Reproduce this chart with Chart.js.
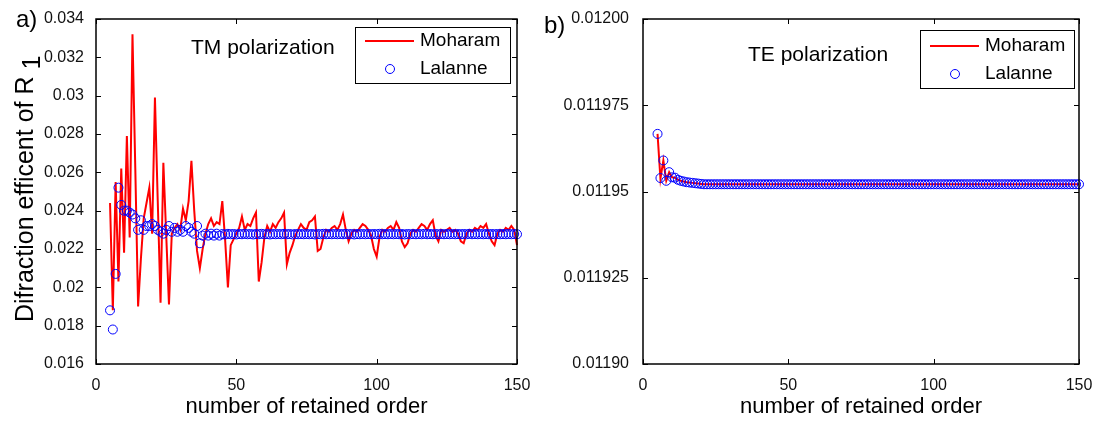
<!DOCTYPE html>
<html>
<head>
<meta charset="utf-8">
<script src="https://cdn.jsdelivr.net/npm/chart.js@4.4.0/dist/chart.umd.min.js"></script>
<style>
  html, body { margin: 0; padding: 0; background: #fff; }
  #wrap { position: relative; width: 1099px; height: 421px; }
  .panel { position: absolute; top: 0; height: 421px; }
  #panelA { left: 0; width: 540px; }
  #panelB { left: 540px; width: 559px; }
</style>
</head>
<body>
<div id="wrap">
  <div class="panel" id="panelA"><canvas id="chartA" width="540" height="421"></canvas></div>
  <div class="panel" id="panelB"><canvas id="chartB" width="559" height="421"></canvas></div>
</div>
<script>
// number of retained orders
const orders = [
  5, 6, 7, 8, 9, 10, 11, 12, 13, 14,
  15, 16, 17, 18, 19, 20, 21, 22, 23, 24,
  25, 26, 27, 28, 29, 30, 31, 32, 33, 34,
  35, 36, 37, 38, 39, 40, 41, 42, 43, 44,
  45, 46, 47, 48, 49, 50, 51, 52, 53, 54,
  55, 56, 57, 58, 59, 60, 61, 62, 63, 64,
  65, 66, 67, 68, 69, 70, 71, 72, 73, 74,
  75, 76, 77, 78, 79, 80, 81, 82, 83, 84,
  85, 86, 87, 88, 89, 90, 91, 92, 93, 94,
  95, 96, 97, 98, 99, 100, 101, 102, 103, 104,
  105, 106, 107, 108, 109, 110, 111, 112, 113, 114,
  115, 116, 117, 118, 119, 120, 121, 122, 123, 124,
  125, 126, 127, 128, 129, 130, 131, 132, 133, 134,
  135, 136, 137, 138, 139, 140, 141, 142, 143, 144,
  145, 146, 147, 148, 149, 150
];

// a) TM polarization
const tmMoharam = [
  0.0244, 0.0188, 0.0255, 0.0203, 0.0262, 0.0218, 0.0279, 0.0226, 0.0332, 0.0262,
  0.0190, 0.0215, 0.0236, 0.0244, 0.0252, 0.0228, 0.0299, 0.0245, 0.0192, 0.0265,
  0.0228, 0.0191, 0.0228, 0.0231, 0.0233, 0.0230, 0.0241, 0.0235, 0.0245, 0.0266,
  0.0240, 0.0219, 0.0210, 0.0220, 0.0228, 0.0233, 0.0236, 0.0232, 0.0234, 0.0233,
  0.0245, 0.0225, 0.0200, 0.0222, 0.0225, 0.0228, 0.0231, 0.0237, 0.0230, 0.0233,
  0.0232, 0.0236, 0.0239, 0.0203, 0.0213, 0.0226, 0.0232, 0.0229, 0.0233, 0.0231,
  0.0234, 0.0236, 0.0239, 0.0212, 0.0218, 0.0222, 0.0227, 0.0230, 0.0233, 0.0231,
  0.0230, 0.0234, 0.0235, 0.0237, 0.0219, 0.0220, 0.0226, 0.0230, 0.0229, 0.0231,
  0.0232, 0.0230, 0.0233, 0.0238, 0.0230, 0.0224, 0.0228, 0.0230, 0.0229, 0.0231,
  0.0233, 0.0232, 0.0230, 0.0227, 0.0220, 0.0216, 0.0226, 0.0230, 0.0229, 0.0231,
  0.0232, 0.0230, 0.0234, 0.0231, 0.0224, 0.0221, 0.0223, 0.0228, 0.0230, 0.0229,
  0.0231, 0.0233, 0.0232, 0.0230, 0.0233, 0.0235, 0.0227, 0.0224, 0.0230, 0.0229,
  0.0230, 0.0231, 0.0229, 0.0230, 0.0228, 0.0224, 0.0223, 0.0228, 0.0230, 0.0229,
  0.0231, 0.0230, 0.0232, 0.0231, 0.0233, 0.0228, 0.0224, 0.0222, 0.0228, 0.0230,
  0.0229, 0.0231, 0.0230, 0.0232, 0.0230, 0.0222
];
const tmLalanne = [
  0.0188, 0.0178, 0.0207, 0.0252, 0.0243, 0.0240, 0.0240, 0.0239, 0.0238, 0.0236,
  0.0230, 0.0235, 0.0230, 0.0232, 0.0232, 0.0233, 0.0232, 0.0230, 0.0229, 0.0228,
  0.0230, 0.0232, 0.0229, 0.0231, 0.0229, 0.0230, 0.0229, 0.0232, 0.0231, 0.0229,
  0.0228, 0.0232, 0.0223, 0.0227, 0.0228, 0.0227, 0.0228, 0.0227, 0.0228, 0.0227,
  0.02278, 0.02276, 0.02279, 0.02277, 0.02278, 0.02276, 0.02278, 0.02277, 0.02279, 0.02277,
  0.02278, 0.02276, 0.02278, 0.02277, 0.02279, 0.02277, 0.02278, 0.02276, 0.02278, 0.02277,
  0.02278, 0.02277, 0.02279, 0.02277, 0.02278, 0.02276, 0.02278, 0.02277, 0.02278, 0.02277,
  0.02278, 0.02277, 0.02278, 0.02276, 0.02278, 0.02277, 0.02279, 0.02277, 0.02278, 0.02277,
  0.02278, 0.02277, 0.02278, 0.02277, 0.02279, 0.02277, 0.02278, 0.02276, 0.02278, 0.02277,
  0.02278, 0.02277, 0.02278, 0.02277, 0.02278, 0.02277, 0.02279, 0.02277, 0.02278, 0.02277,
  0.02278, 0.02277, 0.02278, 0.02277, 0.02278, 0.02276, 0.02278, 0.02277, 0.02278, 0.02277,
  0.02278, 0.02277, 0.02279, 0.02277, 0.02278, 0.02277, 0.02278, 0.02277, 0.02278, 0.02277,
  0.02278, 0.02277, 0.02278, 0.02277, 0.02278, 0.02277, 0.02278, 0.02277, 0.02279, 0.02277,
  0.02278, 0.02277, 0.02278, 0.02277, 0.02278, 0.02277, 0.02278, 0.02277, 0.02278, 0.02277,
  0.02278, 0.02277, 0.02278, 0.02277, 0.02278, 0.02277
];

// b) TE polarization
const teMoharam = [
  0.0119667, 0.0119537, 0.0119590, 0.0119531, 0.0119556, 0.0119541, 0.0119540, 0.0119534, 0.0119531, 0.0119529,
  0.0119527, 0.0119526, 0.0119525, 0.0119524, 0.0119523, 0.0119522, 0.0119521, 0.0119521, 0.0119521, 0.0119521,
  0.0119521, 0.0119521, 0.0119521, 0.0119521, 0.0119521, 0.0119521, 0.0119521, 0.0119521, 0.0119521, 0.0119521,
  0.0119521, 0.0119521, 0.0119521, 0.0119521, 0.0119521, 0.0119521, 0.0119521, 0.0119521, 0.0119521, 0.0119521,
  0.0119521, 0.0119521, 0.0119521, 0.0119521, 0.0119521, 0.0119521, 0.0119521, 0.0119521, 0.0119521, 0.0119521,
  0.0119521, 0.0119521, 0.0119521, 0.0119521, 0.0119521, 0.0119521, 0.0119521, 0.0119521, 0.0119521, 0.0119521,
  0.0119521, 0.0119521, 0.0119521, 0.0119521, 0.0119521, 0.0119521, 0.0119521, 0.0119521, 0.0119521, 0.0119521,
  0.0119521, 0.0119521, 0.0119521, 0.0119521, 0.0119521, 0.0119521, 0.0119521, 0.0119521, 0.0119521, 0.0119521,
  0.0119521, 0.0119521, 0.0119521, 0.0119521, 0.0119521, 0.0119521, 0.0119521, 0.0119521, 0.0119521, 0.0119521,
  0.0119521, 0.0119521, 0.0119521, 0.0119521, 0.0119521, 0.0119521, 0.0119521, 0.0119521, 0.0119521, 0.0119521,
  0.0119521, 0.0119521, 0.0119521, 0.0119521, 0.0119521, 0.0119521, 0.0119521, 0.0119521, 0.0119521, 0.0119521,
  0.0119521, 0.0119521, 0.0119521, 0.0119521, 0.0119521, 0.0119521, 0.0119521, 0.0119521, 0.0119521, 0.0119521,
  0.0119521, 0.0119521, 0.0119521, 0.0119521, 0.0119521, 0.0119521, 0.0119521, 0.0119521, 0.0119521, 0.0119521,
  0.0119521, 0.0119521, 0.0119521, 0.0119521, 0.0119521, 0.0119521, 0.0119521, 0.0119521, 0.0119521, 0.0119521,
  0.0119521, 0.0119521, 0.0119521, 0.0119521, 0.0119521, 0.0119521
];
const teLalanne = [
  0.0119667, 0.0119539, 0.0119590, 0.0119531, 0.0119556, 0.0119541, 0.0119540, 0.0119534, 0.0119531, 0.0119529,
  0.0119527, 0.0119526, 0.0119525, 0.0119524, 0.0119523, 0.0119522, 0.0119521, 0.0119521, 0.0119521, 0.0119521,
  0.0119521, 0.0119521, 0.0119521, 0.0119521, 0.0119521, 0.0119521, 0.0119521, 0.0119521, 0.0119521, 0.0119521,
  0.0119521, 0.0119521, 0.0119521, 0.0119521, 0.0119521, 0.0119521, 0.0119521, 0.0119521, 0.0119521, 0.0119521,
  0.0119521, 0.0119521, 0.0119521, 0.0119521, 0.0119521, 0.0119521, 0.0119521, 0.0119521, 0.0119521, 0.0119521,
  0.0119521, 0.0119521, 0.0119521, 0.0119521, 0.0119521, 0.0119521, 0.0119521, 0.0119521, 0.0119521, 0.0119521,
  0.0119521, 0.0119521, 0.0119521, 0.0119521, 0.0119521, 0.0119521, 0.0119521, 0.0119521, 0.0119521, 0.0119521,
  0.0119521, 0.0119521, 0.0119521, 0.0119521, 0.0119521, 0.0119521, 0.0119521, 0.0119521, 0.0119521, 0.0119521,
  0.0119521, 0.0119521, 0.0119521, 0.0119521, 0.0119521, 0.0119521, 0.0119521, 0.0119521, 0.0119521, 0.0119521,
  0.0119521, 0.0119521, 0.0119521, 0.0119521, 0.0119521, 0.0119521, 0.0119521, 0.0119521, 0.0119521, 0.0119521,
  0.0119521, 0.0119521, 0.0119521, 0.0119521, 0.0119521, 0.0119521, 0.0119521, 0.0119521, 0.0119521, 0.0119521,
  0.0119521, 0.0119521, 0.0119521, 0.0119521, 0.0119521, 0.0119521, 0.0119521, 0.0119521, 0.0119521, 0.0119521,
  0.0119521, 0.0119521, 0.0119521, 0.0119521, 0.0119521, 0.0119521, 0.0119521, 0.0119521, 0.0119521, 0.0119521,
  0.0119521, 0.0119521, 0.0119521, 0.0119521, 0.0119521, 0.0119521, 0.0119521, 0.0119521, 0.0119521, 0.0119521,
  0.0119521, 0.0119521, 0.0119521, 0.0119521, 0.0119521, 0.0119521
];

// axis ticks
const xTicks = [0, 50, 100, 150];
const xTickLabels = ["0", "50", "100", "150"];
const tmYTicks = [0.016, 0.018, 0.020, 0.022, 0.024, 0.026, 0.028, 0.030, 0.032, 0.034];
const tmYTickLabels = ["0.016", "0.018", "0.02", "0.022", "0.024", "0.026", "0.028", "0.03", "0.032", "0.034"];
const teYTicks = [0.011900, 0.011925, 0.011950, 0.011975, 0.012000];
const teYTickLabels = ["0.01190", "0.011925", "0.01195", "0.011975", "0.01200"];

const FONT = "'Liberation Sans', Arial, Helvetica, sans-serif";

function toPoints(values) {
  return orders.map((n, i) => ({ x: n, y: values[i] }));
}

// box around the axes and inward tick marks, like MATLAB
const axesFrame = {
  id: "axesFrame",
  afterDatasetsDraw(chart) {
    const { ctx, chartArea: a } = chart;
    const x = chart.scales.x;
    const y = chart.scales.y;
    ctx.save();
    ctx.strokeStyle = "#000";
    ctx.lineWidth = 1.5;
    ctx.strokeRect(a.left, a.top, a.right - a.left, a.bottom - a.top);
    ctx.lineWidth = 1;
    ctx.beginPath();
    x.ticks.forEach((t) => {
      const px = Math.round(x.getPixelForValue(t.value)) + 0.5;
      ctx.moveTo(px, a.bottom); ctx.lineTo(px, a.bottom - 5);
      ctx.moveTo(px, a.top); ctx.lineTo(px, a.top + 5);
    });
    y.ticks.forEach((t) => {
      const py = Math.round(y.getPixelForValue(t.value)) + 0.5;
      ctx.moveTo(a.left, py); ctx.lineTo(a.left + 5, py);
      ctx.moveTo(a.right, py); ctx.lineTo(a.right - 5, py);
    });
    ctx.stroke();
    ctx.restore();
  },
  afterDraw(chart, args, opts) {
    const ctx = chart.ctx;
    ctx.save();
    ctx.fillStyle = "#000";
    ctx.textBaseline = "middle";

    // panel letter
    ctx.font = "24px " + FONT;
    ctx.textAlign = "left";
    ctx.fillText(opts.letter.text, opts.letter.x, opts.letter.y);

    // polarization note
    ctx.font = "21px " + FONT;
    ctx.fillText(opts.note.text, opts.note.x, opts.note.y);

    // legend
    const lg = opts.legend;
    ctx.fillStyle = "#fff";
    ctx.fillRect(lg.x, lg.y, lg.w, lg.h);
    ctx.strokeStyle = "#000";
    ctx.lineWidth = 1;
    ctx.strokeRect(lg.x + 0.5, lg.y + 0.5, lg.w, lg.h);
    ctx.strokeStyle = "#ff0000";
    ctx.lineWidth = 2;
    ctx.beginPath();
    ctx.moveTo(lg.x + 10, lg.row1);
    ctx.lineTo(lg.x + 59, lg.row1);
    ctx.stroke();
    ctx.strokeStyle = "#0000ff";
    ctx.lineWidth = 1;
    ctx.beginPath();
    ctx.arc(lg.x + 35, lg.row2, 4.5, 0, Math.PI * 2);
    ctx.stroke();
    ctx.fillStyle = "#000";
    ctx.font = "19px " + FONT;
    ctx.fillText("Moharam", lg.x + 65, lg.row1);
    ctx.fillText("Lalanne", lg.x + 65, lg.row2);

    // y title with subscript
    if (opts.yTitle) {
      ctx.translate(opts.yTitle.x, opts.yTitle.y);
      ctx.rotate(-Math.PI / 2);
      ctx.textBaseline = "alphabetic";
      ctx.font = "25px " + FONT;
      const main = "Difraction efficent of R";
      ctx.fillText(main, 0, 0);
      const w = ctx.measureText(main + " ").width;
      ctx.fillText("1", w, 7);
    }
    ctx.restore();
  }
};

function makeChart(id, moharam, lalanne, yTicks, yTickLabels, yMin, yMax, yWidth, rightPad, yPad, annot) {
  return new Chart(document.getElementById(id), {
    type: "line",
    data: {
      datasets: [
        {
          label: "Moharam",
          data: toPoints(moharam),
          borderColor: "#ff0000",
          borderWidth: 2,
          pointRadius: 0,
          tension: 0,
          fill: false,
          order: 1,
          clip: false
        },
        {
          label: "Lalanne",
          data: toPoints(lalanne),
          showLine: false,
          pointStyle: "circle",
          pointRadius: 4.5,
          pointBorderWidth: 1,
          pointBorderColor: "#0000ff",
          pointBackgroundColor: "rgba(0,0,0,0)",
          borderColor: "#0000ff",
          order: 0,
          clip: false
        }
      ]
    },
    options: {
      responsive: false,
      animation: false,
      devicePixelRatio: 1,
      layout: { padding: { left: 0, right: rightPad, top: 19, bottom: 0 } },
      plugins: {
        legend: { display: false },
        tooltip: { enabled: false },
        axesFrame: annot
      },
      scales: {
        x: {
          type: "linear",
          min: 0,
          max: 150,
          grid: { display: false },
          border: { display: false },
          afterBuildTicks: (scale) => { scale.ticks = xTicks.map((v) => ({ value: v })); },
          afterFit: (scale) => { scale.height = 57; },
          ticks: {
            color: "#111",
            padding: 4,
            maxRotation: 0,
            font: { family: FONT, size: 16 },
            callback: (v, i) => xTickLabels[i]
          },
          title: {
            display: true,
            text: "number of retained order",
            color: "#000",
            font: { family: FONT, size: 22 },
            padding: { top: 0, bottom: 1 }
          }
        },
        y: {
          type: "linear",
          min: yMin,
          max: yMax,
          grid: { display: false },
          border: { display: false },
          afterBuildTicks: (scale) => { scale.ticks = yTicks.map((v) => ({ value: v })); },
          afterFit: (scale) => { scale.width = yWidth; },
          ticks: {
            color: "#111",
            padding: yPad,
            font: { family: FONT, size: 16 },
            callback: (v, i) => yTickLabels[i]
          }
        }
      }
    },
    plugins: [axesFrame]
  });
}

makeChart("chartA", tmMoharam, tmLalanne, tmYTicks, tmYTickLabels, 0.016, 0.034, 96, 23, 4, {
  letter: { text: "a)", x: 16, y: 20 },
  note: { text: "TM polarization", x: 191, y: 48 },
  legend: { x: 355, y: 27, w: 155, h: 56, row1: 41, row2: 69 },
  yTitle: { x: 33, y: 322 }
});

makeChart("chartB", teMoharam, teLalanne, teYTicks, teYTickLabels, 0.0119, 0.012, 103, 20, 6, {
  letter: { text: "b)", x: 4, y: 26 },
  note: { text: "TE polarization", x: 208, y: 55 },
  legend: { x: 380, y: 30, w: 154, h: 58, row1: 46, row2: 74 },
  yTitle: null
});
</script>
</body>
</html>
